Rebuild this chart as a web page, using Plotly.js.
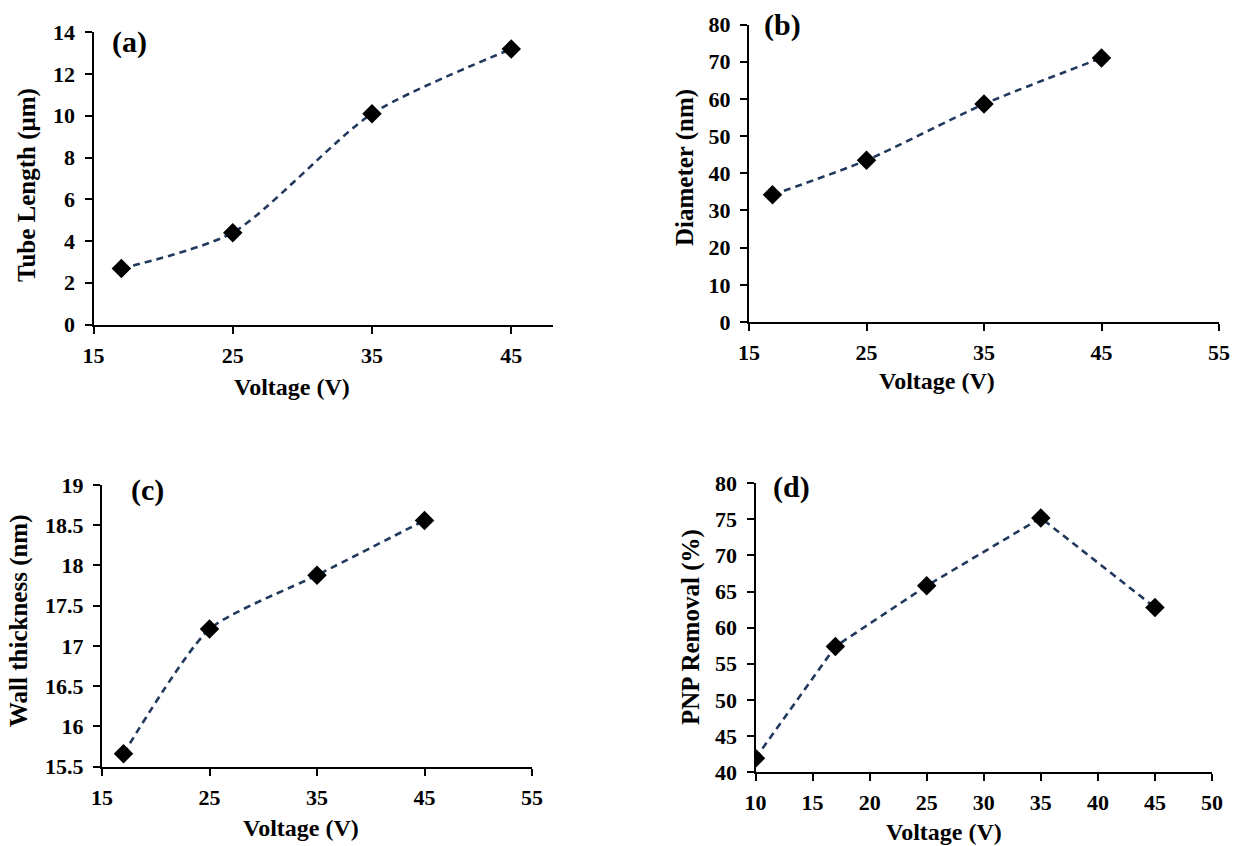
<!DOCTYPE html>
<html>
<head>
<meta charset="utf-8">
<script src="https://cdn.plot.ly/plotly-3.0.1.min.js"></script>
<style>html,body{margin:0;padding:0;background:#fff;}#chart{width:1235px;height:846px;}</style>
</head>
<body>
<div id="chart"></div>
<script>
// ---- data ----
const voltageABC = [17, 25, 35, 45];
const tubeLength = [2.68, 4.4, 10.1, 13.2];
const diameter = [34.2, 43.5, 58.6, 71.0];
const wallThickness = [15.66, 17.21, 17.88, 18.56];
const voltageD = [10, 17, 25, 35, 45];
const pnpRemoval = [41.9, 57.4, 65.8, 75.2, 62.8];

const panelLabels = ['(a)', '(b)', '(c)', '(d)'];
const xTitle = 'Voltage (V)';
const yTitles = ['Tube Length (μm)', 'Diameter (nm)', 'Wall thickness (nm)', 'PNP Removal (%)'];

// ---- styling ----
const FONT = 'Liberation Serif, Times New Roman, serif';
const W = 1235, H = 846;
const px = v => v / W;
const py = v => 1 - v / H;

function trace(x, y, xa, ya, shape, smoothing) {
  return {
    x: x, y: y, xaxis: xa, yaxis: ya, type: 'scatter', mode: 'lines+markers',
    line: {color: '#22395e', width: 2.6, dash: '7px,5px', shape: shape, smoothing: smoothing},
    marker: {symbol: 'diamond', size: 15, color: '#000000', line: {width: 0}},
    showlegend: false, hoverinfo: 'x+y'
  };
}

function axisBase(dom, range, tick0, dtick, anchor, standoff) {
  return {
    domain: dom, range: range, tick0: tick0, dtick: dtick, anchor: anchor,
    showline: true, linecolor: '#000', linewidth: 2, mirror: false,
    ticks: 'outside', ticklen: 7, tickwidth: 2, tickcolor: '#000',
    ticklabelstandoff: standoff,
    showgrid: false, zeroline: false, automargin: false,
    tickfont: {family: FONT, size: 22, color: '#000', weight: 700}
  };
}
const xaxis = (d, r, t0, dt, a) => axisBase(d, r, t0, dt, a, 3);
const yaxis = (d, r, t0, dt, a) => axisBase(d, r, t0, dt, a, 5);

const data = [
  trace(voltageABC, tubeLength, 'x', 'y', 'spline', 0.7),
  trace(voltageABC, diameter, 'x2', 'y2', 'spline', 0.7),
  trace(voltageABC, wallThickness, 'x3', 'y3', 'spline', 0.6),
  trace(voltageD, pnpRemoval, 'x4', 'y4', 'linear', 0)
];

// annotation positions (pixels)
const labelPos = [[129, 42], [782, 25], [147, 490], [791, 487]];
const xTitlePos = [[292, 387], [937, 381], [301, 828], [944, 832]];
const yTitlePos = [[27, 185], [685, 168], [19, 621], [691, 627]];

const annotations = [];
for (let i = 0; i < 4; i++) {
  annotations.push({
    text: panelLabels[i], xref: 'paper', yref: 'paper',
    x: px(labelPos[i][0]), y: py(labelPos[i][1]), xanchor: 'center', yanchor: 'middle',
    showarrow: false, font: {family: FONT, size: 30, color: '#000', weight: 700}
  });
  annotations.push({
    text: xTitle, xref: 'paper', yref: 'paper',
    x: px(xTitlePos[i][0]), y: py(xTitlePos[i][1]), xanchor: 'center', yanchor: 'middle',
    showarrow: false, font: {family: FONT, size: 24, color: '#000', weight: 700}
  });
  annotations.push({
    text: yTitles[i], xref: 'paper', yref: 'paper', textangle: -90,
    x: px(yTitlePos[i][0]), y: py(yTitlePos[i][1]), xanchor: 'center', yanchor: 'middle',
    showarrow: false, font: {family: FONT, size: 25, color: '#000', weight: 700}
  });
}

const layout = {
  width: W, height: H,
  margin: {l: 0, r: 0, t: 0, b: 0},
  paper_bgcolor: '#fff', plot_bgcolor: '#fff',
  showlegend: false,
  xaxis: xaxis([px(93.5), px(553)], [15, 48], 15, 10, 'y'),
  yaxis: yaxis([py(324.5), py(32.3)], [0, 14], 0, 2, 'x'),
  xaxis2: xaxis([px(749), px(1219)], [15, 55], 15, 10, 'y2'),
  yaxis2: yaxis([py(322), py(24.5)], [0, 80], 0, 10, 'x2'),
  xaxis3: xaxis([px(102), px(532)], [15, 55], 15, 10, 'y3'),
  yaxis3: yaxis([py(766.7), py(485)], [15.5, 19], 15.5, 0.5, 'x3'),
  xaxis4: xaxis([px(755.5), px(1212)], [10, 50], 10, 5, 'y4'),
  yaxis4: yaxis([py(772), py(483.3)], [40, 80], 40, 5, 'x4'),
  annotations: annotations
};

Plotly.newPlot('chart', data, layout, {displayModeBar: false, staticPlot: true});
</script>
</body>
</html>
